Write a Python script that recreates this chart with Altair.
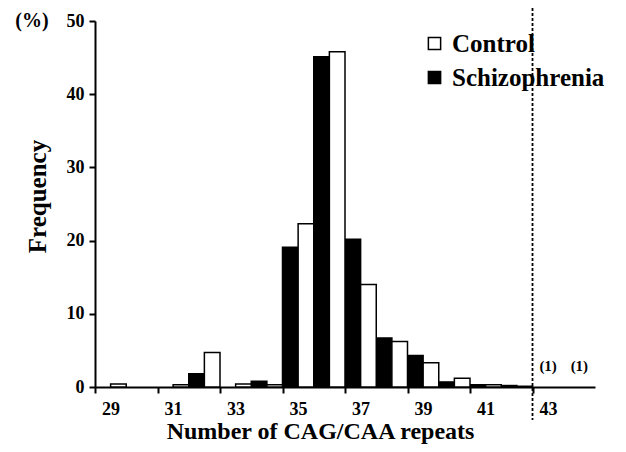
import altair as alt
import pandas as pd

repeats = list(range(29, 45))
schizophrenia = [0, 0, 0, 1.8, 0, 0.8, 19.1, 45.1, 20.2, 6.7, 4.3, 0.7, 0.3, 0.2, 0, 0]
control = [0.4, 0, 0.3, 4.7, 0.4, 0.3, 22.3, 45.8, 14.0, 6.2, 3.3, 1.2, 0.3, 0.1, 0, 0]
groups = ["Control", "Schizophrenia"]
x_ticks = [29, 31, 33, 35, 37, 39, 41, 43]
y_ticks = [0, 10, 20, 30, 40, 50]
cutoff = [43]
annot_repeats = [43, 44]
annot_labels = ["(1)", "(1)"]

FONT = "Liberation Serif"

df = pd.DataFrame({
    "repeats": repeats * 2,
    "group": ["Schizophrenia"] * len(repeats) + ["Control"] * len(repeats),
    "freq": schizophrenia + control,
})
cut_df = pd.DataFrame({"x": cutoff})
ann_df = pd.DataFrame({"repeats": annot_repeats, "label": annot_labels, "freq": [0, 0]})
pct_df = pd.DataFrame({"y": [50], "label": ["(%)"]})

x_scale = alt.Scale(domain=[29, 45], nice=False, zero=False)
y_scale = alt.Scale(domain=[0, 50], nice=False)

bars = alt.Chart(df).transform_filter("datum.freq > 0").transform_calculate(
    lo="datum.repeats + (datum.group === 'Control' ? 0.5 : 0)",
    hi="datum.repeats + (datum.group === 'Control' ? 1 : 0.5)",
).mark_bar(stroke="black", strokeWidth=1.5).encode(
    x=alt.X("lo:Q", scale=x_scale, axis=alt.Axis(
        values=x_ticks, title="Number of CAG/CAA repeats", labelOffset=15.6,
        labelFont=FONT, labelFontWeight="bold", labelFontSize=18, labelColor="black",
        labelPadding=7, tickSize=6, tickWidth=2, tickColor="black",
        domainColor="black", domainWidth=2, grid=False, labelFlush=False,
        titleFont=FONT, titleFontWeight="bold", titleFontSize=24, titleColor="black",
        titleX=225, titleY=51, titleBaseline="alphabetic", titleAlign="center",
    )),
    x2="hi:Q",
    y=alt.Y("freq:Q", scale=y_scale, axis=alt.Axis(
        values=y_ticks, title="Frequency",
        labelFont=FONT, labelFontWeight="bold", labelFontSize=18, labelColor="black",
        labelPadding=5, tickSize=6, tickWidth=2, tickColor="black",
        domainColor="black", domainWidth=2, grid=False,
        titleFont=FONT, titleFontWeight="bold", titleFontSize=25, titleColor="black",
        titleX=-58, titleY=175, titleAngle=270, titleAlign="center", titleBaseline="middle",
    )),
    y2=alt.datum(0),
    fill=alt.Fill("group:N", scale=alt.Scale(domain=groups, range=["white", "black"]),
                  legend=alt.Legend(
                      orient="none", legendX=327, legendY=10, title=None,
                      symbolType="square", symbolSize=150, symbolStrokeColor="black",
                      symbolStrokeWidth=1.5, labelFont=FONT, labelFontWeight="bold",
                      labelFontSize=25, labelColor="black", rowPadding=8, padding=0,
                      labelOffset=5,
                  )),
)

rule = alt.Chart(cut_df).mark_rule(color="black", strokeWidth=1.8, strokeDash=[3, 2]).encode(
    x=alt.X("x:Q", scale=x_scale),
    y=alt.value(-13),
    y2=alt.value(399),
)

ann = alt.Chart(ann_df).transform_calculate(xc="datum.repeats + 0.5").mark_text(
    font=FONT, fontWeight="bold", fontSize=15, color="black", dy=-21, baseline="middle"
).encode(
    x=alt.X("xc:Q", scale=x_scale),
    y=alt.Y("freq:Q", scale=y_scale),
    text="label:N",
)

pct = alt.Chart(pct_df).mark_text(
    font=FONT, fontWeight="bold", fontSize=20, color="black", baseline="middle", align="center"
).encode(
    x=alt.value(-63),
    y=alt.Y("y:Q", scale=y_scale),
    text="label:N",
)

chart = alt.layer(bars, rule, ann, pct).properties(
    width=500, height=366,
    autosize=alt.AutoSizeParams(type="none"),
    padding={"left": 87, "top": 13, "right": 23, "bottom": 57},
).configure_view(strokeWidth=0)

chart.save("out.html", embed_options={"renderer": "svg", "actions": False})
